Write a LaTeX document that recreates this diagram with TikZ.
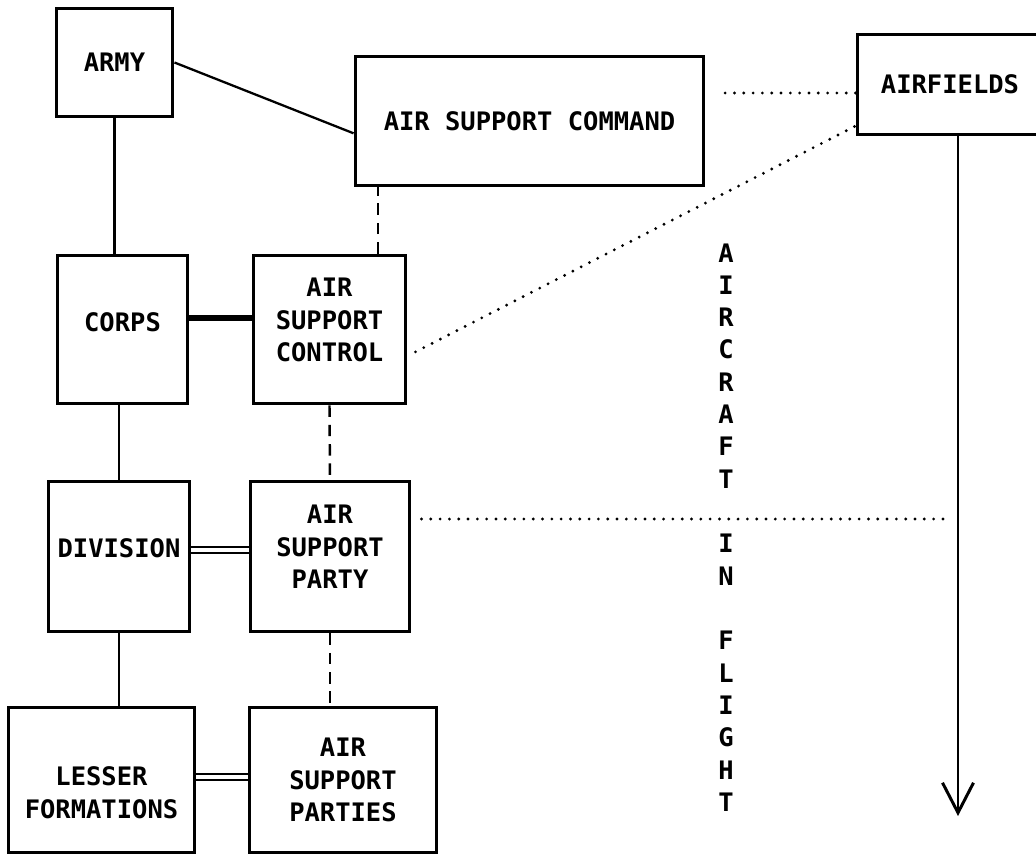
\documentclass[tikz,border=0pt]{standalone}
\usepackage{fontspec}
\newfontfamily\chartfont{DejaVu Sans Mono}
\usetikzlibrary{arrows.meta}

\begin{document}
\begin{tikzpicture}[x=0.02cm, y=-0.02cm,
  font=\chartfont\bfseries\fontsize{14.5}{18.4}\selectfont,
  box/.style={draw, line width=1.7pt, align=center, inner sep=0pt},
  link/.style={line width=1.3pt},
  thicklink/.style={line width=3.4pt},
  twinlink/.style={double, double distance=2.2pt, line width=1.1pt},
  dashlink/.style={line width=1.4pt, dash pattern=on 6.5pt off 4.5pt},
  dotlink/.style={line width=1.8pt, line cap=round, dash pattern=on 0pt off 5.3pt},
  arrowline/.style={line width=1.7pt, -{Straight Barb[length=0.6cm, width=0.62cm]}}]
\useasboundingbox (0,0) rectangle (1036,855);
% army side
\node[box, minimum width=2.34cm, minimum height=2.18cm] (army) at (114.5,62.5) {ARMY};
\node[box, minimum width=2.62cm, minimum height=2.98cm, text depth=8.5pt] (corps) at (122.5,329.5) {CORPS};
\node[box, minimum width=2.84cm, minimum height=3.02cm, text depth=9.5pt] (div) at (119,556.5) {DIVISION};
\node[box, minimum width=3.74cm, minimum height=2.92cm, text height=43.8pt] (lesser) at (101.5,780) {LESSER\\FORMATIONS};
% air side
\node[box, minimum width=6.98cm, minimum height=2.6cm] (asc) at (529.5,121) {AIR SUPPORT COMMAND};
\node[box, minimum width=3.06cm, minimum height=2.98cm, text depth=10.8pt] (ctrl) at (329.5,329.5) {AIR\\SUPPORT\\CONTROL};
\node[box, minimum width=3.2cm, minimum height=3.02cm, text depth=10.8pt] (party) at (330,556.5) {AIR\\SUPPORT\\PARTY};
\node[box, minimum width=3.76cm, minimum height=2.92cm] (parties) at (343,780) {AIR\\SUPPORT\\PARTIES};
\node[box, minimum width=3.72cm, minimum height=2.02cm] (fields) at (950,84.5) {AIRFIELDS};
\node[align=center, inner sep=0pt] (flight) at (726,527.5) {A\\I\\R\\C\\R\\A\\F\\T\\[18.4pt]I\\N\\[18.4pt]F\\L\\I\\G\\H\\T};
% chain of command
\draw[link] (army.east) -- (asc.184);
\draw[link] (army.south) -- (army.south |- corps.north);
\draw[link] (div.north) -- (div.north |- corps.south);
\draw[link] (div.south) -- (div.south |- lesser.north);
\draw[thicklink] ([yshift=0.23cm]corps.east) -- ([yshift=0.23cm]corps.east -| ctrl.west);
\draw[twinlink] ([yshift=0.13cm]div.east) -- ([yshift=0.13cm]div.east -| party.west);
\draw[twinlink] ([yshift=0.06cm]lesser.east) -- ([yshift=0.06cm]lesser.east -| parties.west);
\draw[dashlink] ([xshift=0.97cm]ctrl.north) -- ([xshift=0.97cm]ctrl.north |- asc.south);
\draw[dashlink] (ctrl.south) -- (party.north);
\draw[dashlink] (party.south) -- (party.south |- parties.north);
% aircraft
\coordinate (tip) at (958,816);
\draw[arrowline] (fields.south -| tip) -- (tip);
\draw[dotlink, shorten >=0.24cm] ([yshift=-0.17cm]fields.west) -- ([yshift=-0.17cm]fields.west -| asc.east);
\draw[dotlink, shorten <=0.18cm] ([yshift=-0.53cm]ctrl.east) -- ([yshift=-0.83cm]fields.west);
\draw[dotlink, shorten <=0.2cm, shorten >=0.18cm] ([yshift=0.75cm]party.east) -- ([yshift=0.75cm]party.east -| tip);
\end{tikzpicture}
\end{document}
